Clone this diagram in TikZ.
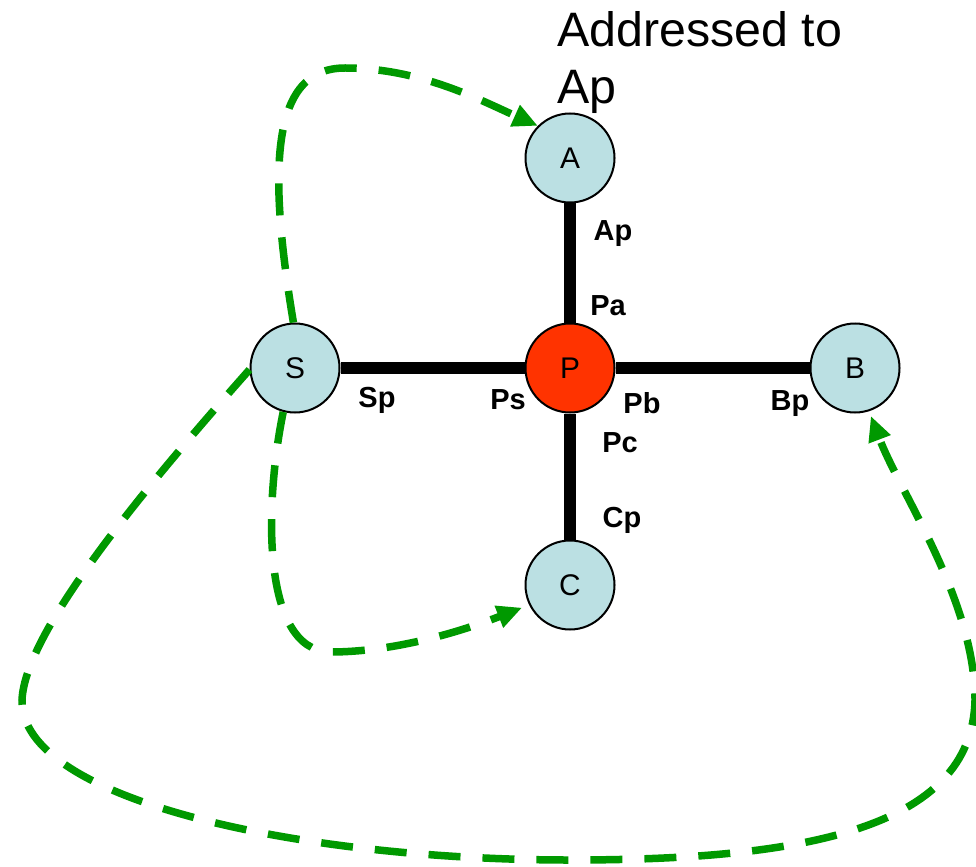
\documentclass[tikz,border=0pt]{standalone}
\usepackage{fontspec}
\setmainfont{Liberation Sans}
\usetikzlibrary{arrows.meta}
\definecolor{hostblue}{RGB}{187,224,227}
\definecolor{hubred}{RGB}{255,51,0}
\definecolor{routegreen}{RGB}{0,153,0}

\begin{document}
\begin{tikzpicture}[x=0.2mm, y=-0.2mm,
      host/.style={circle, draw, line width=0.4mm, fill=hostblue, minimum size=17.8mm,
                   inner sep=0pt, font=\fontsize{17}{20}\selectfont},
      hub/.style={host, fill=hubred},
      link/.style={line width=2.3mm},
      port/.style={font=\fontsize{16.5}{19}\selectfont\bfseries, inner sep=0pt},
      route/.style={routegreen, line width=1.5mm, dash pattern=on 6.4mm off 4.4mm,
                    -{Triangle[length=5mm, width=4.4mm]}}
    ]
    \useasboundingbox (0,0) rectangle (976,866);

    % Hosts and the switch
    \node[hub]  (P) at (570,368) {P};
    \node[host] (A) at (570,158) {A};
    \node[host] (S) at (295,368) {S};
    \node[host] (B) at (855,368) {B};
    \node[host] (C) at (570,585) {C};

    % Links
    \draw[link] (P) -- (A);
    \draw[link] (P) -- (S);
    \draw[link] (P) -- (B);
    \draw[link] (P) -- (C);

    % Port labels
    \node[port] (ap) at (613,234) {Ap};
    \node[port] (pa) at (608,306) {Pa};
    \node[port] (sp) at (377,400) {Sp};
    \node[port] (ps) at (508,400) {Ps};
    \node[port] (pb) at (642,403) {Pb};
    \node[port] (bp) at (790,404) {Bp};
    \node[port] (pc) at (620,443) {Pc};
    \node[port] (cp) at (622,520) {Cp};

    \node[anchor=north west, align=left, inner sep=0pt,
          font=\fontsize{27.5}{32.5}\selectfont] (note) at (557,11) {Addressed to\\Ap};

    % Flooded copies
    \coordinate (r1) at (345,68);
    \coordinate (r2) at (330,652);
    \coordinate (r3) at (22,700);
    \coordinate (r4) at (570,860);
    \coordinate (r5) at (975,700);
    \draw[route] (S.92) .. controls (268,170) and (270,68) .. (r1)
      .. controls (420,68) and (480,100) .. (A.135);
    \draw[route, shorten >=1.5mm] (S.255) .. controls (265,500) and (260,650) .. (r2)
      .. controls (400,652) and (470,628) .. (C.206);
    \draw[route, shorten >=1mm] (S.182) .. controls (150,482) and (25,630) .. (r3)
      .. controls (20,800) and (300,860) .. (r4)
      .. controls (800,860) and (972,830) .. (r5)
      .. controls (975,600) and (900,493) .. (B.288);
  \end{tikzpicture}
\end{document}
